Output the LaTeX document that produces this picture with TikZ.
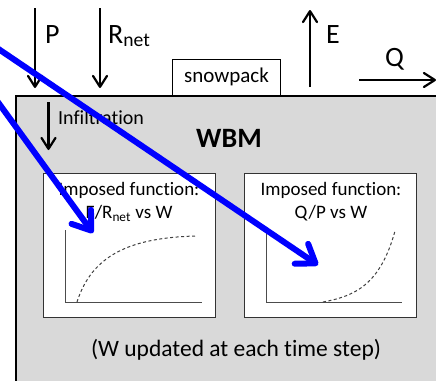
\documentclass[tikz,border=0pt]{standalone}
\usepackage{fontspec}
\setmainfont{Carlito}[Ligatures=NoCommon]
\usetikzlibrary{arrows.meta}

\begin{document}
\begin{tikzpicture}[x=1pt,y=-1pt,
    flux/.style={line width=2.2pt,-{Straight Barb[length=11pt,width=14pt,round]}},
    pointer/.style={line width=6pt,blue,line cap=round,
        -{Straight Barb[length=17pt,width=24pt,round]}},
    plotbox/.style={draw=black!80,line width=1.2pt,fill=white,anchor=north west,
        minimum width=172pt,minimum height=144pt,inner sep=0pt},
    lbl/.style={font=\fontsize{28}{30}\selectfont,anchor=base west,inner sep=0pt}]
    \useasboundingbox (0,0) rectangle (436,380);
    \clip (0,0) rectangle (436,380);
    \node[draw,line width=2.2pt,fill=gray!30,anchor=north west,inner sep=0pt,
        minimum width=460pt,minimum height=320pt] (wbm) at (15,95) {};
    \node[draw,line width=1pt,fill=white,anchor=south west,inner sep=0pt,
        minimum width=108pt,minimum height=36pt,font=\fontsize{21}{23}\selectfont]
        (snow) at (172,95.5) {snowpack};
    \node[font=\bfseries\fontsize{28}{30}\selectfont] (title) at (229,138) {WBM};
    \node[plotbox] (boxa) at (43,173) {};
    \node[plotbox] (boxb) at (244,173) {};
    \node[align=center,font=\fontsize{19}{23}\selectfont] (texta) at (129,202)
        {Imposed function:\\E/R\textsubscript{net} vs W};
    \node[align=center,font=\fontsize{19}{23}\selectfont] (textb) at (331,202)
        {Imposed function:\\Q/P vs W};
    \node[font=\fontsize{23.5}{26}\selectfont] (note) at (236,350)
        {(W updated at each time step)};
    \node[font=\fontsize{20}{22}\selectfont,anchor=base west,inner sep=0pt]
        (infil) at (58,124) {Infiltration};
    \node[lbl] (p) at (45,43) {P};
    \node[lbl] (rnet) at (108,43) {R\textsubscript{net}};
    \node[lbl] (e) at (326,43) {E};
    \node[lbl] (q) at (385,66) {Q};
    \coordinate (p0) at (35,8);      \coordinate (p1) at (35,88);
    \coordinate (r0) at (100,8);     \coordinate (r1) at (100,88);
    \coordinate (e0) at (310,87);    \coordinate (e1) at (310,10);
    \coordinate (q0) at (359,80);    \coordinate (q1) at (436,80);
    \coordinate (i0) at (48.5,102);  \coordinate (i1) at (48.5,150);
    \foreach \a/\b in {p0/p1,r0/r1,e0/e1,q0/q1,i0/i1}{
        \draw[flux] (\a) -- (\b);
      }
    \coordinate (ao) at (65,230);    \coordinate (ax) at (202,302);
    \coordinate (bo) at (266,232);   \coordinate (bx) at (402,302);
    \draw[black!70,line width=0.9pt] (ao) |- (ax);
    \draw[black!70,line width=0.9pt] (bo) |- (bx);
    \draw[black!75,line width=1pt,dash pattern=on 3pt off 2.5pt]
        (77,302) .. controls (92,255) and (130,238) .. (195,236);
    \draw[black!75,line width=1pt,dash pattern=on 3pt off 2.5pt]
        (323,302) .. controls (355,296) and (380,285) .. (395,231);
    \coordinate (s1) at (-20,36.5);  \coordinate (t1) at (318,265);
    \coordinate (s2) at (-20,77.4);  \coordinate (t2) at (93,233);
    \draw[pointer] (s1) -- (t1);
    \draw[pointer] (s2) -- (t2);
  \end{tikzpicture}
\end{document}
